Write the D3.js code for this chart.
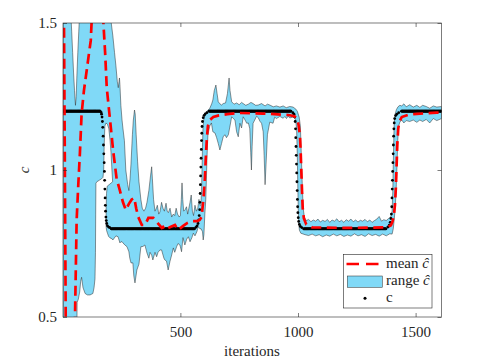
<!DOCTYPE html>
<html>
<head>
<meta charset="utf-8">
<script src="https://cdn.jsdelivr.net/npm/d3@7"></script>
<style>
  body { margin: 0; background: #fff; }
  svg { display: block; }
</style>
</head>
<body>
<svg id="chart" width="479" height="361"></svg>
<script>
const xTicks = [500, 1000, 1500]
const yTicks = [0.5, 1, 1.5]
const yTickLabels = ['0.5', '1', '1.5']

// true c : flat stretches [from, to, value] plus the dots of the four switches
const cFlat = [[1, 160, 1.2], [206, 560, 0.8], [622, 970, 1.2], [1024, 1375, 0.8], [1440, 1610, 1.2]]
const cSwitch = [
    [163, 1.196], [165, 1.19], [167, 1.18], [168.5, 1.165], [170, 1.145], [171.5, 1.115], [173, 1.085],
    [174.5, 1.055], [176, 1.025], [177, 0.995], [178, 0.965], [179, 0.935], [180, 0.905], [181, 0.88],
    [182, 0.86], [183.5, 0.84], [185, 0.828], [187, 0.818], [190, 0.81], [195, 0.806], [200, 0.804],
    [566, 0.805], [571, 0.81], [575, 0.818], [578, 0.83], [580, 0.845], [582, 0.865], [583, 0.89],
    [584, 0.92], [585, 0.95], [586, 0.98], [587, 1.01], [588, 1.04], [589, 1.07], [590, 1.1],
    [591, 1.125], [592, 1.148], [594, 1.165], [597, 1.178], [601, 1.186], [606, 1.191], [613, 1.195],
    [978, 1.195], [983, 1.19], [986, 1.18], [988, 1.165], [989.5, 1.14], [990.5, 1.11], [991.5, 1.08],
    [992.5, 1.05], [993.5, 1.02], [994.5, 0.99], [995.5, 0.96], [996.5, 0.93], [997.5, 0.9],
    [998.5, 0.875], [999.5, 0.855], [1001, 0.838], [1003, 0.825], [1006, 0.815], [1010, 0.808], [1016, 0.804],
    [1382, 0.806], [1388, 0.812], [1392, 0.822], [1395, 0.835], [1397, 0.85], [1398.5, 0.875],
    [1399.5, 0.905], [1400.5, 0.935], [1401.5, 0.965], [1402.5, 0.995], [1403.5, 1.025], [1404.5, 1.055],
    [1405.5, 1.085], [1406.5, 1.115], [1407.5, 1.14], [1409, 1.16], [1411, 1.175], [1415, 1.185],
    [1420, 1.19], [1428, 1.195]
]

// mean c-hat
const meanC = [
    [1, 1.8], [5, 1.52], [9, 1.0], [12.5, 0.5], [20, 0.3], [45, 0.3], [52, 0.5], [59, 0.83], [66, 0.95],
    [73, 1.06], [80, 1.19], [90, 1.27], [102, 1.34], [112, 1.4], [119, 1.44], [123, 1.51], [135, 1.65],
    [155, 1.68], [167, 1.6], [172, 1.51], [180, 1.4], [187, 1.28], [201, 1.17], [215, 1.06], [229, 0.97],
    [243, 0.93], [256, 0.89], [268, 0.864], [281, 0.885], [293, 0.9], [304, 0.905], [312, 0.87],
    [321, 0.84], [336, 0.813], [350, 0.813], [364, 0.837], [385, 0.837], [399, 0.824], [421, 0.803],
    [426, 0.806], [434, 0.796], [455, 0.805], [477, 0.813], [491, 0.796], [512, 0.81], [530, 0.82],
    [548, 0.826], [570, 0.826], [582, 0.83], [590, 0.84], [598, 0.9], [604, 0.97], [608, 1.04],
    [612, 1.1], [617, 1.15], [625, 1.17], [640, 1.18], [660, 1.185], [700, 1.19], [750, 1.194],
    [800, 1.193], [850, 1.192], [900, 1.19], [960, 1.187], [985, 1.183], [995, 1.175], [1002, 1.155],
    [1008, 1.12], [1011, 1.07], [1014, 1.0], [1017, 0.93], [1020, 0.87], [1025, 0.835], [1035, 0.815],
    [1060, 0.805], [1200, 0.803], [1380, 0.805], [1395, 0.812], [1402, 0.825], [1408, 0.85],
    [1412, 0.88], [1416, 0.94], [1419, 1.01], [1422, 1.085], [1426, 1.14], [1431, 1.165], [1441, 1.18],
    [1470, 1.188], [1505, 1.191], [1590, 1.195], [1610, 1.195]
]

// range c-hat : upper edge left to right, lower edge left to right (traced round the notch)
const rangeUpper = [
    [1, 1.75], [33, 1.75], [35, 1.52], [38, 1.47], [42, 1.4], [46, 1.33], [50, 1.27], [54, 1.22],
    [57, 1.25], [60, 1.32], [64, 1.4], [68, 1.47], [71, 1.52], [73, 1.75], [199, 1.75], [203, 1.52],
    [213, 1.456], [220, 1.4], [226, 1.354], [232, 1.3], [236, 1.28], [239, 1.3], [241, 1.313],
    [243, 1.29], [247, 1.22], [252, 1.17], [256, 1.14], [262, 1.1], [268, 1.0], [276, 0.95],
    [281, 0.93], [286, 0.97], [290, 1.02], [296, 1.12], [300, 1.17], [305, 1.204], [308, 1.19],
    [312, 1.12], [318, 1.03], [324, 0.96], [332, 0.9], [338, 0.87], [345, 0.86], [352, 0.87],
    [358, 0.89], [366, 0.93], [373, 0.98], [378, 1.011], [381, 0.97], [386, 0.9], [392, 0.86],
    [398, 0.87], [402, 0.88], [408, 0.85], [413, 0.857], [420, 0.89], [426, 0.87], [432, 0.86],
    [439, 0.887], [444, 0.86], [449, 0.855], [456, 0.87], [463, 0.84], [470, 0.85], [476, 0.845],
    [482, 0.87], [488, 0.85], [495, 0.84], [500, 0.845], [504, 0.9], [507, 0.956], [510, 0.9],
    [514, 0.86], [520, 0.865], [526, 0.875], [531, 0.85], [536, 0.87], [541, 0.89], [546, 0.915],
    [551, 0.86], [556, 0.845], [562, 0.88], [568, 0.86], [574, 0.87], [579, 0.9], [583, 0.88],
    [587, 0.88], [590, 0.93], [592, 1.0], [594, 1.08], [596, 1.14], [599, 1.17], [604, 1.19],
    [613, 1.2], [625, 1.21], [633, 1.225], [638, 1.238], [644, 1.27], [651, 1.289], [656, 1.26],
    [661, 1.232], [668, 1.225], [675, 1.221], [682, 1.226], [692, 1.228], [700, 1.26], [707, 1.313],
    [711, 1.27], [718, 1.232], [728, 1.224], [739, 1.228], [750, 1.222], [760, 1.23], [767, 1.226],
    [778, 1.22], [789, 1.224], [800, 1.23], [809, 1.226], [820, 1.22], [831, 1.221], [845, 1.226],
    [860, 1.218], [870, 1.224], [880, 1.221], [895, 1.215], [908, 1.218], [923, 1.214], [937, 1.218],
    [950, 1.212], [965, 1.216], [979, 1.214], [991, 1.207], [997, 1.2], [1005, 1.18], [1010, 1.15],
    [1013, 1.08], [1016, 1.0], [1019, 0.93], [1022, 0.87], [1027, 0.84], [1035, 0.828], [1045, 0.832],
    [1055, 0.824], [1065, 0.83], [1075, 0.826], [1085, 0.833], [1095, 0.823], [1105, 0.829],
    [1115, 0.825], [1125, 0.832], [1135, 0.822], [1145, 0.83], [1155, 0.826], [1165, 0.834],
    [1175, 0.824], [1185, 0.829], [1195, 0.822], [1205, 0.831], [1215, 0.826], [1225, 0.833],
    [1235, 0.824], [1245, 0.83], [1255, 0.823], [1265, 0.829], [1275, 0.826], [1285, 0.832],
    [1295, 0.824], [1305, 0.83], [1315, 0.822], [1325, 0.828], [1335, 0.833], [1345, 0.842],
    [1355, 0.826], [1365, 0.831], [1375, 0.828], [1385, 0.835], [1394, 0.84], [1400, 0.86],
    [1403, 0.93], [1405, 1.02], [1407, 1.1], [1409, 1.16], [1413, 1.19], [1418, 1.205], [1425, 1.215],
    [1433, 1.22], [1441, 1.218], [1450, 1.225], [1460, 1.215], [1475, 1.222], [1490, 1.214],
    [1505, 1.22], [1518, 1.213], [1530, 1.22], [1545, 1.216], [1560, 1.21], [1575, 1.218],
    [1590, 1.214], [1610, 1.216]
]
const rangeLower = [
    [1, 0.3], [60, 0.45], [61, 0.55], [66, 0.56], [72, 0.585], [76, 0.62], [80, 0.635], [86, 0.6],
    [95, 0.58], [105, 0.575], [116, 0.575], [128, 0.58], [133, 0.6], [137, 0.63], [139, 0.72],
    [140, 0.85], [141, 0.955], [145, 0.96], [155, 0.965], [165, 0.97], [171, 0.975], [174, 1.0],
    [176, 1.08], [179, 1.15], [184, 1.16], [190, 1.155], [196, 1.14], [201, 1.1], [205, 1.06],
    [209, 1.0], [212, 0.96], [200, 0.952], [189, 0.945], [186, 0.92], [184.5, 0.87], [184, 0.81],
    [186, 0.795], [190, 0.785], [195, 0.774], [201, 0.769], [209, 0.766], [213, 0.762], [226, 0.776],
    [235, 0.773], [243, 0.752], [247, 0.756], [252, 0.756], [256, 0.752], [264, 0.745], [273, 0.739],
    [281, 0.722], [285, 0.7], [290, 0.684], [298, 0.684], [302, 0.64], [307, 0.616], [315, 0.66],
    [324, 0.68], [332, 0.739], [341, 0.74], [349, 0.745], [358, 0.718], [366, 0.7], [371, 0.72],
    [378, 0.71], [383, 0.694], [392, 0.72], [399, 0.705], [405, 0.72], [413, 0.728], [420, 0.728],
    [430, 0.7], [434, 0.694], [441, 0.69], [448, 0.66], [456, 0.69], [463, 0.711], [470, 0.735],
    [476, 0.72], [484, 0.739], [490, 0.75], [498, 0.745], [505, 0.722], [511, 0.77], [519, 0.745],
    [527, 0.765], [534, 0.773], [541, 0.756], [549, 0.77], [555, 0.785], [562, 0.776], [570, 0.79],
    [576, 0.807], [583, 0.8], [588, 0.8], [594, 0.79], [597, 0.762], [600, 0.78], [604, 0.85],
    [608, 0.9], [611, 0.98], [613, 1.04], [617, 1.12], [625, 1.15], [632, 1.16], [638, 1.13],
    [647, 1.126], [654, 1.11], [661, 1.09], [668, 1.068], [675, 1.09], [682, 1.113], [689, 1.12],
    [696, 1.11], [704, 1.12], [711, 1.15], [718, 1.181], [725, 1.175], [732, 1.17], [739, 1.13],
    [746, 1.113], [753, 1.159], [760, 1.143], [767, 1.181], [775, 1.17], [782, 1.159], [789, 1.16],
    [795, 1.14], [799, 1.06], [802, 1.0], [805, 1.08], [809, 1.159], [816, 1.17], [824, 1.183],
    [831, 1.178], [838, 1.166], [845, 1.159], [852, 1.13], [856, 1.05], [860, 0.95], [863, 1.0],
    [870, 1.12], [880, 1.163], [894, 1.159], [901, 1.18], [908, 1.175], [923, 1.182], [937, 1.176],
    [944, 1.182], [951, 1.175], [958, 1.183], [965, 1.177], [979, 1.18], [985, 1.178], [990, 1.17],
    [994, 1.14], [997, 1.05], [999, 0.95], [1001, 0.87], [1003, 0.82], [1006, 0.795], [1012, 0.785],
    [1030, 0.78], [1045, 0.777], [1060, 0.782], [1075, 0.776], [1090, 0.78], [1105, 0.773],
    [1120, 0.779], [1135, 0.775], [1150, 0.782], [1165, 0.776], [1180, 0.781], [1195, 0.774],
    [1210, 0.779], [1225, 0.775], [1240, 0.783], [1255, 0.776], [1270, 0.78], [1285, 0.774],
    [1300, 0.783], [1315, 0.777], [1330, 0.781], [1345, 0.775], [1360, 0.782], [1375, 0.776],
    [1390, 0.783], [1400, 0.782], [1405, 0.8], [1410, 0.84], [1414, 0.88], [1418, 0.95], [1421, 1.02],
    [1424, 1.1], [1428, 1.15], [1433, 1.163], [1441, 1.17], [1450, 1.16], [1460, 1.168], [1475, 1.165],
    [1490, 1.17], [1505, 1.162], [1518, 1.17], [1530, 1.165], [1545, 1.172], [1560, 1.16],
    [1575, 1.175], [1590, 1.168], [1610, 1.175]
]

const blue = '#80d9f7'
const serif = '"Liberation Serif", "Times New Roman", "DejaVu Serif", serif'

let svg = d3.select('#chart')

let x = d3.scaleLinear().domain([1, 1610]).range([63, 441.5])
let y = d3.scaleLinear().domain([0.5, 1.5]).range([317, 23])

svg.append('clipPath').attr('id', 'plotClip')
    .append('rect')
    .attr('x', x.range()[0]).attr('y', y.range()[1])
    .attr('width', x.range()[1] - x.range()[0])
    .attr('height', y.range()[0] - y.range()[1])

let plot = svg.append('g').attr('clip-path', 'url(#plotClip)')

let line = d3.line().x(d => x(d[0])).y(d => y(d[1]))

// band
plot.append('path')
    .attr('d', line(rangeUpper.concat(rangeLower.slice().reverse())) + 'Z')
    .attr('fill', blue)
    .attr('stroke', '#2a2a2a')
    .attr('stroke-width', 0.5)
    .attr('stroke-linejoin', 'round')

// c dots
let cDots = []
cFlat.forEach(f => d3.range(f[0], f[1] + 1, 2).forEach(i => cDots.push([i, f[2]])))
cDots = cDots.concat(cSwitch)

plot.selectAll('circle.c')
    .data(cDots)
    .enter()
    .append('circle')
    .attr('class', 'c')
    .attr('cx', d => x(d[0]))
    .attr('cy', d => y(d[1]))
    .attr('r', 1.4)
    .attr('fill', '#000')

// mean
plot.append('path')
    .attr('d', line(meanC))
    .attr('fill', 'none')
    .attr('stroke', '#ff0000')
    .attr('stroke-width', 2.7)
    .attr('stroke-dasharray', '10,5.5')

// axes
let styleAxis = (g) => {
    g.select('.domain').remove()
    g.selectAll('line').attr('stroke', '#262626').attr('stroke-width', 0.6)
    g.selectAll('text').attr('fill', '#262626')
        .style('font-family', serif).style('font-size', '15px')
}

svg.append('g').attr('transform', `translate(0,${y.range()[0]})`)
    .call(d3.axisBottom(x).tickValues(xTicks).tickSizeInner(-4).tickSizeOuter(0).tickPadding(9)
        .tickFormat(d3.format('d')))
    .call(styleAxis)
svg.append('g').attr('transform', `translate(0,${y.range()[1]})`)
    .call(d3.axisTop(x).tickValues(xTicks).tickSizeInner(-4).tickSizeOuter(0).tickFormat(''))
    .call(styleAxis)
svg.append('g').attr('transform', `translate(${x.range()[0]},0)`)
    .call(d3.axisLeft(y).tickValues(yTicks).tickSizeInner(-4).tickSizeOuter(0).tickPadding(6)
        .tickFormat((d, i) => yTickLabels[i]))
    .call(styleAxis)
svg.append('g').attr('transform', `translate(${x.range()[1]},0)`)
    .call(d3.axisRight(y).tickValues(yTicks).tickSizeInner(-4).tickSizeOuter(0).tickFormat(''))
    .call(styleAxis)

svg.append('rect')
    .attr('x', x.range()[0]).attr('y', y.range()[1])
    .attr('width', x.range()[1] - x.range()[0])
    .attr('height', y.range()[0] - y.range()[1])
    .attr('fill', 'none')
    .attr('stroke', '#262626')
    .attr('stroke-width', 0.6)

svg.append('text')
    .attr('x', 252).attr('y', 356)
    .attr('text-anchor', 'middle')
    .attr('fill', '#262626')
    .style('font-family', serif).style('font-size', '15px')
    .text('iterations')

svg.append('text')
    .attr('transform', 'translate(29,170) rotate(-90)')
    .attr('text-anchor', 'middle')
    .attr('fill', '#262626')
    .style('font-family', serif).style('font-size', '15px').style('font-style', 'italic')
    .text('c')

// legend
let legend = svg.append('g')
legend.append('rect')
    .attr('x', 343.5).attr('y', 254.5).attr('width', 88.5).attr('height', 53.5)
    .attr('fill', '#fff').attr('stroke', '#262626').attr('stroke-width', 0.6)
legend.append('line')
    .attr('x1', 346.5).attr('x2', 383).attr('y1', 264).attr('y2', 264)
    .attr('stroke', '#ff0000').attr('stroke-width', 2.7).attr('stroke-dasharray', '12.5,7')
legend.append('rect')
    .attr('x', 347.3).attr('y', 276).attr('width', 35).attr('height', 11.3)
    .attr('fill', blue).attr('stroke', '#2a2a2a').attr('stroke-width', 0.5)
legend.append('circle')
    .attr('cx', 365).attr('cy', 298.3).attr('r', 1.5).attr('fill', '#000')

let legendRows = [['mean ', 'ĉ', 267.5], ['range ', 'ĉ', 285], ['c', '', 302]]
legendRows.forEach(r => {
    let t = legend.append('text').attr('x', 386).attr('y', r[2]).attr('fill', '#262626')
        .style('font-family', serif).style('font-size', '15px')
    t.append('tspan').text(r[0])
    if (r[1]) t.append('tspan').style('font-style', 'italic').text(r[1])
})
</script>
</body>
</html>
